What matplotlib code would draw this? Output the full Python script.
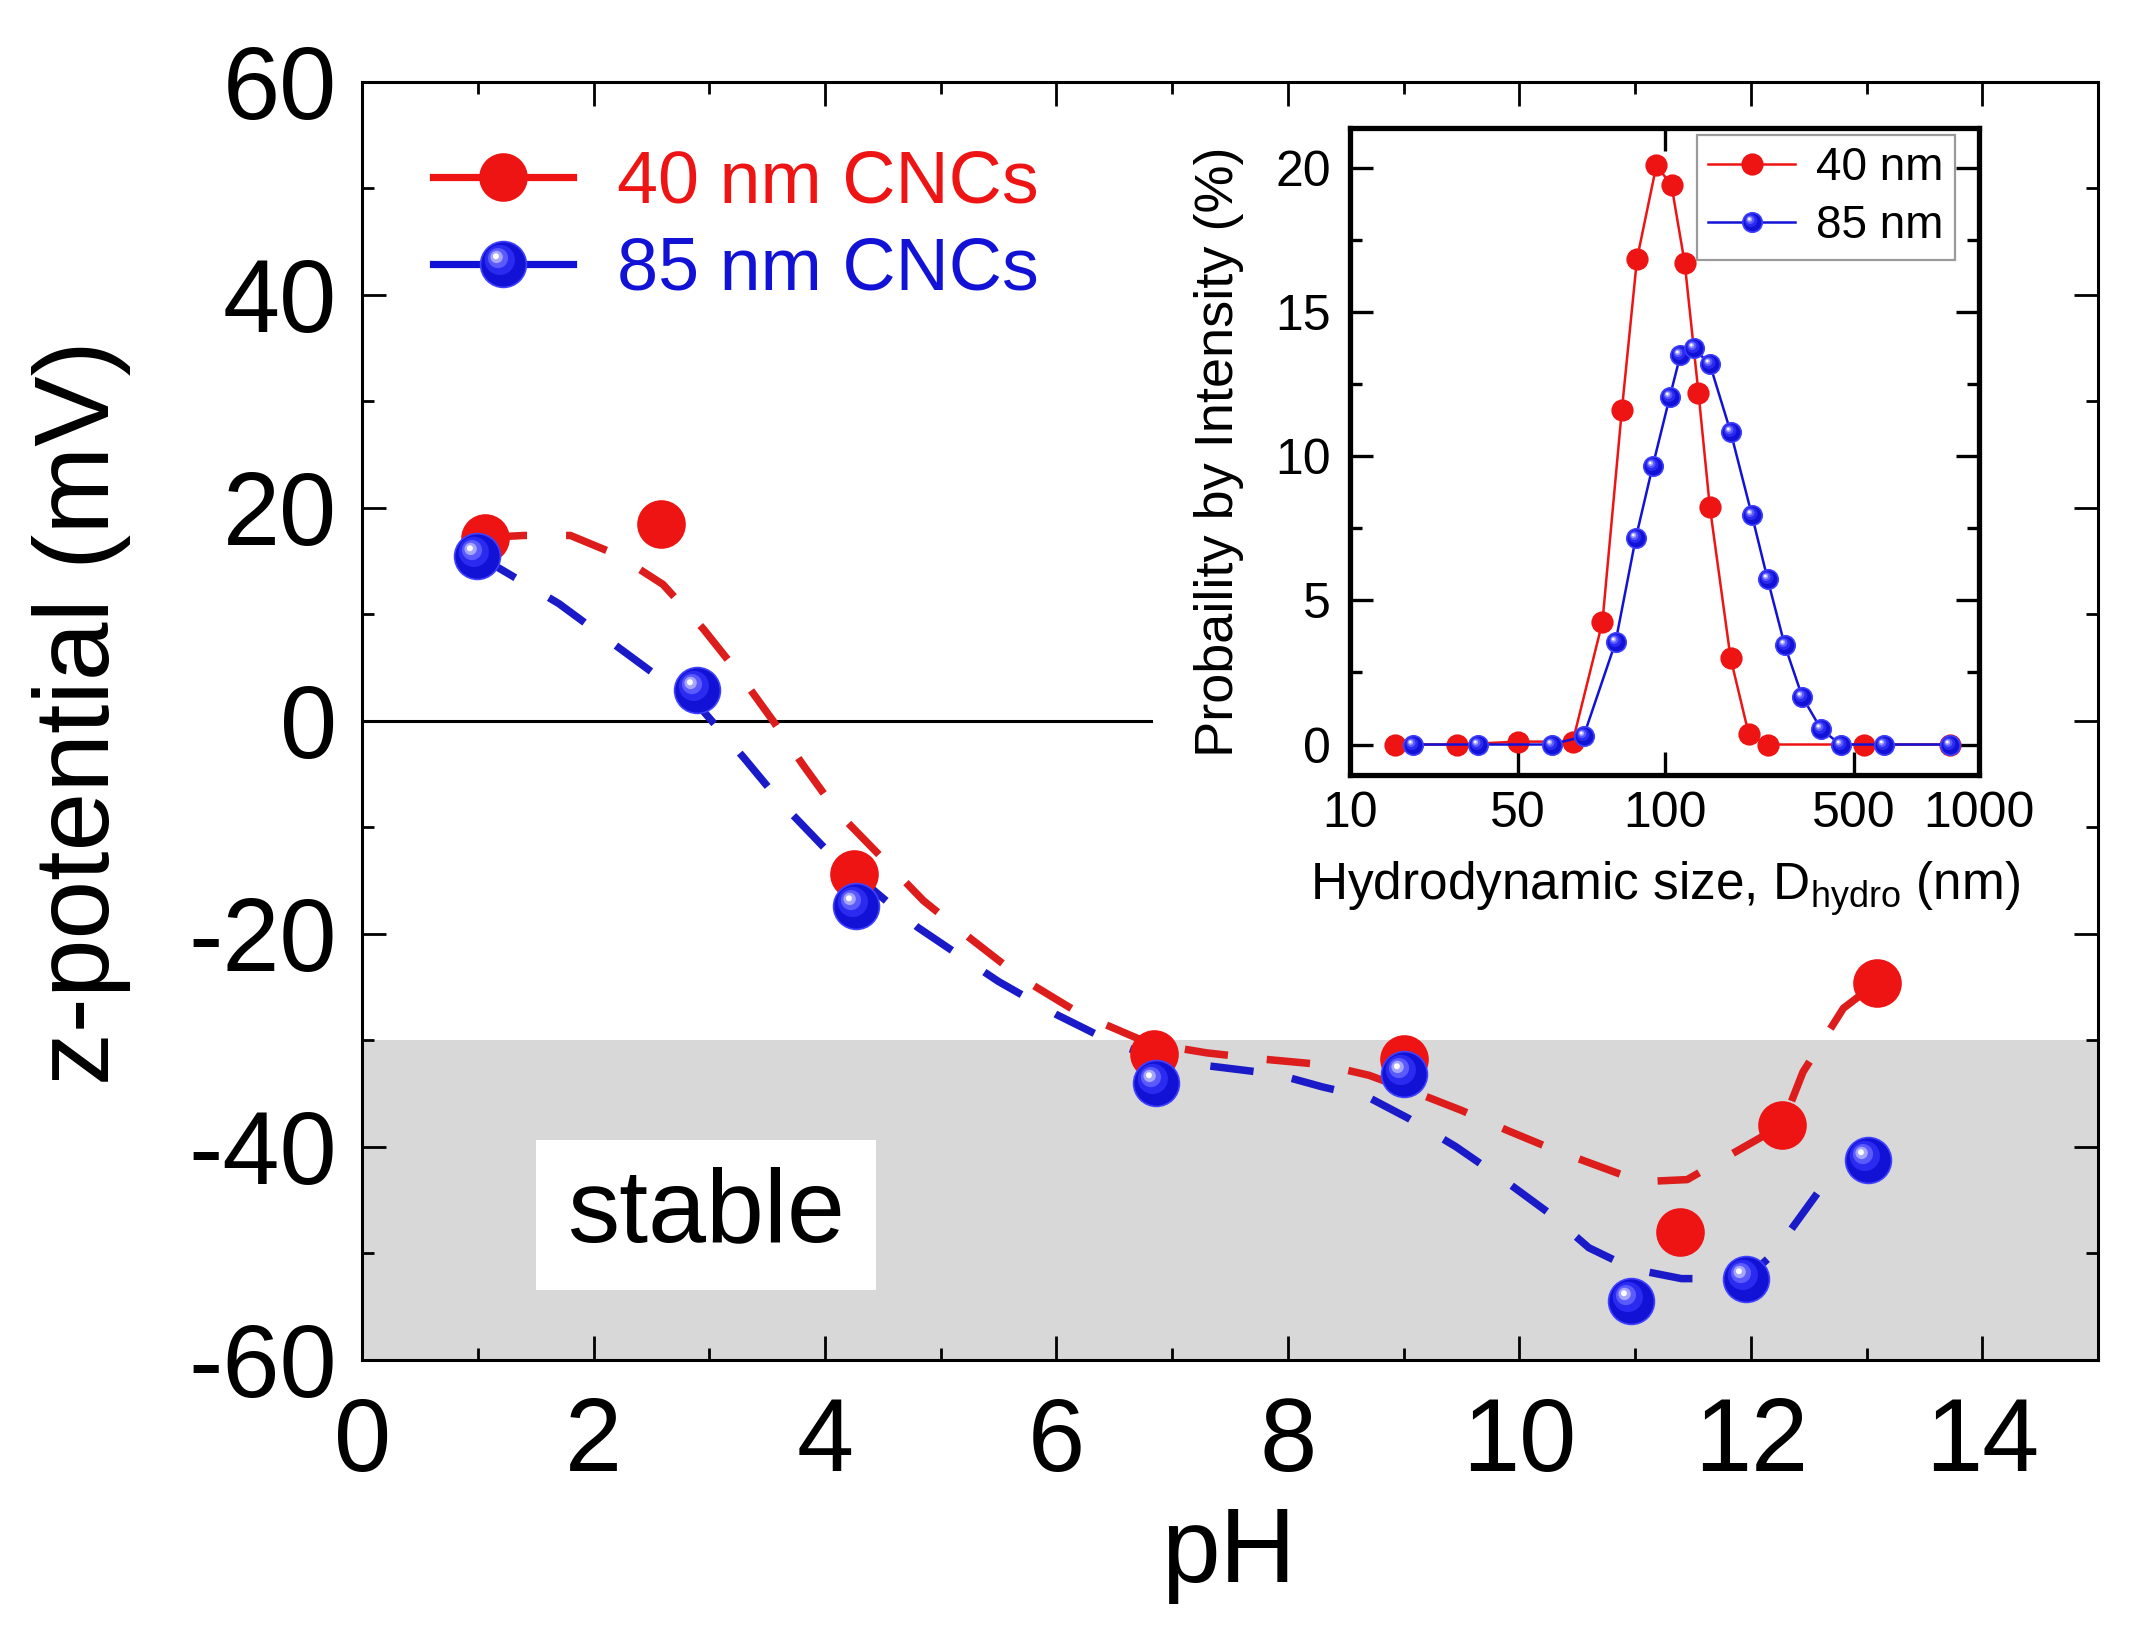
import numpy as np
import matplotlib
matplotlib.use("Agg")
import matplotlib.pyplot as plt
from matplotlib.path import Path
from matplotlib.lines import Line2D
from matplotlib.patches import Rectangle
from matplotlib.legend_handler import HandlerTuple
from matplotlib.ticker import MultipleLocator, FixedLocator, FixedFormatter, NullLocator

plt.rcParams['font.family'] = ['Liberation Sans', 'DejaVu Sans']
plt.rcParams['axes.unicode_minus'] = False

# zeta potential vs pH
ph_40 = [1.06, 2.58, 4.25, 6.84, 9.0, 11.39, 12.27, 13.09]
zeta_40 = [17.2, 18.5, -14.4, -31.3, -31.8, -48.0, -38.0, -24.6]
ph_85 = [0.99, 2.89, 4.27, 6.86, 9.0, 10.96, 11.96, 13.01]
zeta_85 = [15.5, 2.9, -17.4, -34.0, -33.2, -54.5, -52.4, -41.3]

# dashed guide curves
guide_40_x = [1.05, 1.4, 1.8, 2.2, 2.6, 2.95, 3.25, 3.55, 3.8, 4.1, 4.45, 4.85, 5.25, 5.7,
              6.2, 6.8, 7.3, 7.8, 8.3, 8.7, 9.1, 9.5, 9.9, 10.3, 10.7, 11.05, 11.45, 11.85,
              12.27, 12.45, 12.8, 13.09]
guide_40_y = [17.2, 17.4, 17.4, 15.6, 12.8, 8.6, 4.5, 0.0, -4.0, -8.5, -12.4, -16.9, -20.4, -24.2,
              -27.5, -30.3, -31.2, -31.8, -32.3, -33.3, -34.9, -36.6, -38.5, -40.3, -41.9, -43.3,
              -43.1, -40.6, -38.0, -33.0, -27.0, -24.6]
guide_85_x = [1.0, 1.25, 1.7, 2.1, 2.5, 2.9, 3.3, 3.62, 4.0, 4.45, 4.8, 5.1, 5.5, 6.0, 6.5, 6.9,
              7.3, 7.9, 8.3, 8.7, 9.05, 9.45, 9.85, 10.25, 10.6, 10.98, 11.4, 11.96, 12.2, 12.6, 13.0]
guide_85_y = [15.5, 13.9, 11.0, 7.8, 4.6, 1.5, -3.5, -7.7, -12.0, -16.2, -19.4, -21.6, -24.5, -27.6,
              -30.3, -31.8, -32.4, -33.2, -34.4, -35.4, -37.4, -40.0, -43.0, -46.2, -49.5, -51.5,
              -52.4, -52.4, -50.0, -44.0, -41.3]

# size distribution (inset)
size_40 = [13.9, 21.8, 34.2, 51.0, 63.4, 73.1, 81.7, 94.2, 105.2, 115.9, 128.2, 139.3, 162.2,
           185.4, 212.8, 430.5, 812.8]
prob_40 = [0.0, 0.0, 0.1, 0.1, 4.25, 11.6, 16.85, 20.1, 19.4, 16.7, 12.2, 8.25, 3.0,
           0.35, 0.0, 0.0, 0.0]
size_85 = [15.8, 25.4, 43.7, 55.2, 69.8, 80.9, 91.6, 103.8, 112.2, 123.6, 139.3, 162.2, 189.7,
           212.8, 241.0, 274.2, 314.8, 363.1, 498.9, 812.8]
prob_85 = [0.0, 0.0, 0.0, 0.28, 3.55, 7.15, 9.65, 12.05, 13.5, 13.75, 13.2, 10.85, 7.95,
           5.73, 3.46, 1.66, 0.53, 0.0, 0.0, 0.0]

inset_tick_pos = [10, 34.2, 100, 400, 1000]
inset_tick_lab = ['10', '50', '100', '500', '1000']

red = '#ee1414'
red_dash = '#dd1c1c'
blue = '#1212d6'
blue_dash = '#1a1ac8'


def blob(cx, cy, r):
    c = Path.circle((cx, cy), r)
    verts = np.vstack([[[1.0, 1.0]], c.vertices])
    codes = np.concatenate([[Path.MOVETO], c.codes])
    return Path(verts, codes)


shine = [(blob(-0.16, 0.2, 0.66), '#2a2af0'),
         (blob(-0.24, 0.28, 0.44), '#5a5aff'),
         (blob(-0.3, 0.33, 0.27), '#a6a6ff'),
         (blob(-0.33, 0.36, 0.13), '#ffffff')]


def sphere_lines(ax, x, y, ms, z):
    out = [ax.plot(x, y, ls='none', marker='o', ms=ms, mfc=blue, mec='#4040ff',
                   mew=0.6, zorder=z)[0]]
    for p, col in shine:
        out.append(ax.plot(x, y, ls='none', marker=p, ms=ms, mfc=col, mec='none',
                           zorder=z + 0.1)[0])
    return out


fig = plt.figure(figsize=(10.65, 8.19), dpi=200)
ax = fig.add_axes([0.170, 0.170, 0.815, 0.780])

ax.axhspan(-60, -30, color='#d8d8d8', zorder=0, lw=0)
ax.axhline(0, xmin=0, xmax=6.82 / 15, color='black', lw=1.1, zorder=1)

ax.add_patch(Rectangle((1.5, -53.5), 2.94, 14.1, fc='white', ec='none', zorder=1.5))
ax.text(2.97, -46.4, 'stable', fontsize=37.5, ha='center', va='center', zorder=2)

ax.plot(guide_85_x, guide_85_y, color=blue_dash, lw=2.7, ls=(0, (5.8, 5.2)), zorder=3)
ax.plot(guide_40_x, guide_40_y, color=red_dash, lw=2.7, ls=(0, (5.8, 5.2)), zorder=3)

ax.plot(ph_40, zeta_40, ls='none', marker='o', ms=16.5, mfc=red, mec=red, zorder=4)
sphere_lines(ax, ph_85, zeta_85, 16.5, 5)

ax.set_xlim(0, 15)
ax.set_ylim(-60, 60)
ax.xaxis.set_major_locator(MultipleLocator(2))
ax.xaxis.set_minor_locator(MultipleLocator(1))
ax.yaxis.set_major_locator(MultipleLocator(20))
ax.yaxis.set_minor_locator(MultipleLocator(10))
ax.tick_params(which='both', direction='in', top=True, right=True, width=1.0)
ax.tick_params(which='major', length=8.5, labelsize=37)
ax.tick_params(which='minor', length=4.3)
ax.tick_params(axis='y', which='major', pad=9)
ax.tick_params(axis='x', which='major', pad=13)
for s in ax.spines.values():
    s.set_linewidth(1.1)

ax.set_xlabel('pH', fontsize=38)
ax.set_ylabel('z-potential (mV)', fontsize=38)
ax.yaxis.set_label_coords(-0.133, 0.506)
ax.xaxis.set_label_coords(0.499, -0.114)

h40 = Line2D([], [], color=red, lw=2.6, marker='o', ms=16.5, mfc=red, mec=red)
h85_line = Line2D([], [], color=blue, lw=2.6, marker='o', ms=16.5, mfc=blue, mec='#4040ff', mew=0.6)
h85 = [h85_line] + [Line2D([], [], ls='none', marker=p, ms=16.5, mfc=col, mec='none')
                    for p, col in shine]
leg = ax.legend([h40, tuple(h85)], ['40 nm CNCs', '85 nm CNCs'],
                handler_map={tuple: HandlerTuple(ndivide=1)},
                loc='upper left', bbox_to_anchor=(0.041, 0.948), frameon=False,
                fontsize=26.5, handlelength=1.9, handletextpad=0.6, labelspacing=0.25,
                borderpad=0, borderaxespad=0)
for t, c in zip(leg.get_texts(), [red, blue]):
    t.set_color(c)

# inset
ins = fig.add_axes([0.634, 0.527, 0.295, 0.395])
ins.plot(size_40, prob_40, color=red, lw=0.9, marker='o', ms=7, mfc=red, mec=red, zorder=3)
ins.plot(size_85, prob_85, color=blue, lw=0.9, zorder=4)
sphere_lines(ins, size_85, prob_85, 7, 5)
ins.set_xscale('log')
ins.set_xlim(10, 1000)
ins.set_ylim(-1.05, 21.4)
ins.xaxis.set_major_locator(FixedLocator(inset_tick_pos))
ins.xaxis.set_major_formatter(FixedFormatter(inset_tick_lab))
ins.xaxis.set_minor_locator(NullLocator())
ins.yaxis.set_major_locator(MultipleLocator(5))
ins.yaxis.set_minor_locator(MultipleLocator(2.5))
ins.tick_params(which='both', direction='in', right=True, width=1.2)
ins.tick_params(which='major', length=8.3, labelsize=18)
ins.tick_params(which='minor', length=4.3)
ins.tick_params(axis='y', pad=7)
ins.tick_params(axis='x', pad=6)
for s in ins.spines.values():
    s.set_linewidth(1.9)
ins.set_ylabel('Probaility by Intensity (%)', fontsize=19.5)
ins.set_xlabel('Hydrodynamic size, D$_\\mathregular{hydro}$ (nm)', fontsize=18.5)
ins.yaxis.set_label_coords(-0.17, 0.5)
ins.xaxis.set_label_coords(0.5, -0.13)

top = ins.twiny()
top.set_xscale('log')
top.set_xlim(10, 1000)
top.xaxis.set_major_locator(FixedLocator([100]))
top.xaxis.set_minor_locator(NullLocator())
top.tick_params(axis='x', direction='in', length=8.3, width=1.2, labeltop=False)
for s in top.spines.values():
    s.set_visible(False)

i40 = Line2D([], [], color=red, lw=0.9, marker='o', ms=7, mfc=red, mec=red)
i85_line = Line2D([], [], color=blue, lw=0.9, marker='o', ms=7, mfc=blue, mec='#4040ff', mew=0.6)
i85 = [i85_line] + [Line2D([], [], ls='none', marker=p, ms=7, mfc=col, mec='none')
                    for p, col in shine]
ileg = ins.legend([i40, tuple(i85)], ['40 nm', '85 nm'],
                  handler_map={tuple: HandlerTuple(ndivide=1)},
                  loc='upper right', bbox_to_anchor=(0.962, 0.989), fontsize=16.5,
                  handlelength=1.9, handletextpad=0.45, labelspacing=0.3,
                  borderpad=0.25, borderaxespad=0, fancybox=False, framealpha=1,
                  edgecolor='#9a9a9a')
ileg.get_frame().set_linewidth(0.8)

fig.savefig('out.png', dpi=200)
